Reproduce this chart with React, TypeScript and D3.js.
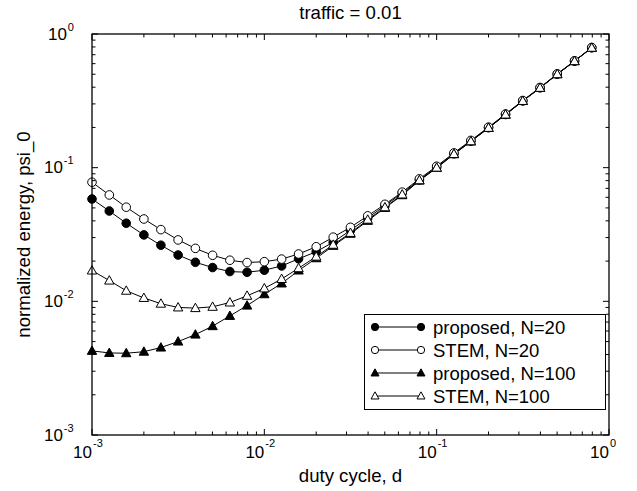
import React from "react";
import * as d3 from "d3";

const dutyCycle = [
  0.001, 0.00126, 0.00158, 0.002, 0.00251, 0.00316, 0.00398, 0.00501, 0.00631, 0.00794,
  0.01, 0.0126, 0.0158, 0.02, 0.0251, 0.0316, 0.0398, 0.0501, 0.0631, 0.0794,
  0.1, 0.126, 0.158, 0.2, 0.251, 0.316, 0.398, 0.501, 0.631, 0.794,
];

const proposedN20 = [
  0.0583, 0.0474, 0.0384, 0.0314, 0.0263, 0.0222, 0.0196, 0.0179, 0.0167, 0.0165,
  0.0171, 0.0184, 0.0208, 0.0235, 0.0277, 0.034, 0.042, 0.052, 0.0645, 0.081,
  0.101, 0.127, 0.158, 0.199, 0.25, 0.316, 0.396, 0.501, 0.627, 0.789,
];

const stemN20 = [
  0.0778, 0.0625, 0.0506, 0.0413, 0.0344, 0.0288, 0.0249, 0.0221, 0.0203, 0.0195,
  0.0198, 0.0207, 0.0226, 0.0256, 0.0302, 0.0358, 0.0436, 0.0532, 0.0656, 0.0825,
  0.1025, 0.129, 0.16, 0.201, 0.252, 0.318, 0.398, 0.503, 0.63, 0.792,
];

const proposedN100 = [
  0.00426, 0.00411, 0.00409, 0.0042, 0.00451, 0.005, 0.00564, 0.00652, 0.00778, 0.00929,
  0.0113, 0.0136, 0.017, 0.021, 0.026, 0.032, 0.04, 0.05, 0.0622, 0.08,
  0.0995, 0.126, 0.157, 0.198, 0.249, 0.315, 0.395, 0.5, 0.626, 0.788,
];

const stemN100 = [
  0.017, 0.0143, 0.012, 0.0106, 0.0096, 0.009, 0.0089, 0.0091, 0.0098, 0.011,
  0.0125, 0.0147, 0.0177, 0.0216, 0.0265, 0.0325, 0.0408, 0.0505, 0.063, 0.0805,
  0.1, 0.1265, 0.1575, 0.1985, 0.2495, 0.3155, 0.3955, 0.5005, 0.6265, 0.7885,
];

const seriesNames = ["proposed, N=20", "STEM, N=20", "proposed, N=100", "STEM, N=100"];
const seriesMarkers = ["circle", "circle", "triangle", "triangle"];
const seriesFilled = [true, false, true, false];
const seriesValues = [proposedN20, stemN20, proposedN100, stemN100];

const decadeExponents = [-3, -2, -1, 0];

const titleText = "traffic = 0.01";
const xLabel = "duty cycle, d";
const yLabel = "normalized energy, psi_0";

const W = 637;
const H = 491;
const M = { left: 92, right: 609, top: 34, bottom: 435 };
const FONT = "'Liberation Sans', Arial, Helvetica, sans-serif";

function Marker({ type, filled, cx, cy, s = 1 }: any) {
  const fill = filled ? "#000" : "#fff";
  if (type === "circle") {
    return <circle cx={cx} cy={cy} r={4.3 * s} fill={fill} stroke="#000" strokeWidth={1} />;
  }
  const hw = 4.7 * s;
  const up = 4.9 * s;
  const dn = 3.5 * s;
  const d = `M${cx},${cy - up}L${cx + hw},${cy + dn}L${cx - hw},${cy + dn}Z`;
  return <path d={d} fill={fill} stroke="#000" strokeWidth={1} strokeLinejoin="miter" />;
}

export default function App() {
  const x = d3.scaleLog().domain([1e-3, 1]).range([M.left, M.right]);
  const y = d3.scaleLog().domain([1e-3, 1]).range([M.bottom, M.top]);

  const line = d3
    .line<number>()
    .x((_, i) => x(dutyCycle[i]))
    .y((v) => y(v));

  const minorTicks: number[] = [];
  decadeExponents.slice(0, -1).forEach((e) => {
    for (let m = 2; m <= 9; m++) minorTicks.push(m * Math.pow(10, e));
  });
  const majorTicks = decadeExponents.map((e) => Math.pow(10, e));

  const MAJ = 6;
  const MIN = 3.5;

  const legendX = 364.5;
  const legendY = 314.5;
  const legendW = 241;
  const legendH = 95;
  const rowY = (i: number) => 327 + i * 23;

  return (
    <svg
      width={W}
      height={H}
      style={{ position: "absolute", left: 0, top: 0, background: "#fff" }}
      fontFamily={FONT}
    >
      <rect x={0} y={0} width={W} height={H} fill="#fff" />

      {seriesValues.map((vals, si) => (
        <path key={"l" + si} d={line(vals) || ""} fill="none" stroke="#000" strokeWidth={1} />
      ))}
      {seriesValues.map((vals, si) => (
        <g key={"m" + si}>
          {vals.map((v, i) => (
            <Marker
              key={i}
              type={seriesMarkers[si]}
              filled={seriesFilled[si]}
              cx={x(dutyCycle[i])}
              cy={y(v)}
            />
          ))}
        </g>
      ))}

      <rect
        x={M.left}
        y={M.top}
        width={M.right - M.left}
        height={M.bottom - M.top}
        fill="none"
        stroke="#000"
        strokeWidth={1.3}
      />

      <g stroke="#000" strokeWidth={1}>
        {majorTicks.map((t, i) => (
          <g key={"mj" + i}>
            <line x1={x(t)} x2={x(t)} y1={M.bottom} y2={M.bottom - MAJ} />
            <line x1={x(t)} x2={x(t)} y1={M.top} y2={M.top + MAJ} />
            <line x1={M.left} x2={M.left + MAJ} y1={y(t)} y2={y(t)} />
            <line x1={M.right} x2={M.right - MAJ} y1={y(t)} y2={y(t)} />
          </g>
        ))}
        {minorTicks.map((t, i) => (
          <g key={"mn" + i}>
            <line x1={x(t)} x2={x(t)} y1={M.bottom} y2={M.bottom - MIN} />
            <line x1={x(t)} x2={x(t)} y1={M.top} y2={M.top + MIN} />
            <line x1={M.left} x2={M.left + MIN} y1={y(t)} y2={y(t)} />
            <line x1={M.right} x2={M.right - MIN} y1={y(t)} y2={y(t)} />
          </g>
        ))}
      </g>

      {decadeExponents.map((e, i) => {
        const t = Math.pow(10, e);
        return (
          <g key={"xl" + i} fill="#000">
            <text x={x(t)} y={458} fontSize={17} textAnchor="end">
              10
            </text>
            <text x={x(t) + 1} y={446.5} fontSize={11} textAnchor="start">
              {String(e)}
            </text>
          </g>
        );
      })}

      {decadeExponents.map((e, i) => {
        const t = Math.pow(10, e);
        const sup = String(e);
        const supW = sup.length === 1 ? 6.2 : 10.2;
        const right = 74;
        return (
          <g key={"yl" + i} fill="#000">
            <text x={right - supW - 0.8} y={y(t) + 5.8} fontSize={17} textAnchor="end">
              10
            </text>
            <text x={right - supW} y={y(t) - 3.5} fontSize={11} textAnchor="start">
              {sup}
            </text>
          </g>
        );
      })}

      <text x={(M.left + M.right) / 2} y={19} fontSize={18.6} textAnchor="middle" fill="#000">
        {titleText}
      </text>

      <text x={(M.left + M.right) / 2} y={481.5} fontSize={18.6} textAnchor="middle" fill="#000">
        {xLabel}
      </text>
      <text
        transform={`translate(30,${(M.top + M.bottom) / 2}) rotate(-90)`}
        fontSize={18.6}
        textAnchor="middle"
        fill="#000"
      >
        {yLabel}
      </text>

      <rect x={legendX} y={legendY} width={legendW} height={legendH} fill="#fff" stroke="#000" strokeWidth={1} />
      {seriesNames.map((name, i) => (
        <g key={"lg" + i}>
          <line x1={375} x2={421} y1={rowY(i)} y2={rowY(i)} stroke="#000" strokeWidth={1} />
          <Marker type={seriesMarkers[i]} filled={seriesFilled[i]} cx={375} cy={rowY(i)} s={0.85} />
          <Marker type={seriesMarkers[i]} filled={seriesFilled[i]} cx={421} cy={rowY(i)} s={0.85} />
          <text x={433} y={rowY(i) + 6.6} fontSize={18.5} fill="#000">
            {name}
          </text>
        </g>
      ))}
    </svg>
  );
}
